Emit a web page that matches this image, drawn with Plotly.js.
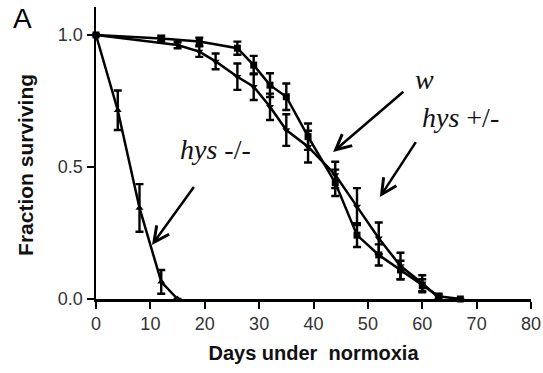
<!DOCTYPE html>
<html>
<head>
<meta charset="utf-8">
<script src="https://cdn.plot.ly/plotly-3.0.1.min.js"></script>
<style>html,body{margin:0;padding:0;background:#fff;}#chart{width:543px;height:373px;}</style>
</head>
<body>
<div id="chart"></div>
<script>
// hys -/- (triangles up)
const hysNullDays = [0, 4, 8, 12, 15];
const hysNullFrac = [1.0, 0.715, 0.345, 0.065, 0.0];
const hysNullErr  = [0, 0.075, 0.09, 0.045, 0];

// w (squares)
const wDays = [0, 12, 19, 26, 29, 32, 35, 39, 44, 48, 52, 56, 60, 63, 67];
const wFrac = [1.0, 0.987, 0.975, 0.95, 0.886, 0.81, 0.766, 0.615, 0.44, 0.242, 0.167, 0.11, 0.05, 0.01, 0.0];
const wErr  = [0, 0.01, 0.015, 0.025, 0.035, 0.045, 0.05, 0.05, 0.05, 0.045, 0.04, 0.035, 0.025, 0.01, 0];

// hys +/- (triangles down)
const hysHetDays = [0, 15, 19, 22, 26, 29, 32, 35, 39, 44, 48, 52, 56, 60, 63];
const hysHetFrac = [1.0, 0.962, 0.937, 0.9, 0.842, 0.804, 0.728, 0.64, 0.577, 0.47, 0.35, 0.23, 0.125, 0.06, 0.005];
const hysHetErr  = [0, 0.012, 0.02, 0.03, 0.05, 0.05, 0.05, 0.06, 0.06, 0.05, 0.07, 0.06, 0.05, 0.03, 0.01];

const xTicks = [0, 10, 20, 30, 40, 50, 60, 70, 80];
const yTicks = [0, 0.5, 1.0];
const yTickLabels = ['0.0', '0.5', '1.0'];

function series(x, y, e, sym) {
  return {
    x: x, y: y, type: 'scatter', mode: 'lines+markers', cliponaxis: false,
    line: {color: '#000', width: 2.5},
    marker: {symbol: sym, size: 7, color: '#000'},
    error_y: {type: 'data', array: e, visible: true, color: '#000', thickness: 2.4, width: 4}
  };
}

const data = [
  series(hysNullDays, hysNullFrac, hysNullErr, 'triangle-up'),
  series(wDays, wFrac, wErr, 'square'),
  series(hysHetDays, hysHetFrac, hysHetErr, 'triangle-down')
];

const serif = 'Liberation Serif, Times New Roman, serif';
const arrowCommon = {showarrow: true, arrowhead: 5, arrowsize: 1.2, arrowwidth: 2.5, arrowcolor: '#000',
  axref: 'x', ayref: 'y', xref: 'x', yref: 'y', text: ''};

const layout = {
  width: 543, height: 373,
  margin: {l: 96, r: 12, t: 7, b: 74},
  paper_bgcolor: '#fff', plot_bgcolor: '#fff',
  showlegend: false,
  font: {family: 'Liberation Sans, Arial, sans-serif', color: '#000'},
  xaxis: {
    range: [0, 80], tickvals: xTicks, ticks: 'outside', ticklen: 7, tickwidth: 2, tickcolor: '#000',
    showline: true, linecolor: '#000', linewidth: 2.5, showgrid: false, zeroline: false,
    tickfont: {size: 18, color: '#333'},
    title: {text: '<b>Days under  normoxia</b>', font: {size: 20, color: '#111'}, standoff: 13}
  },
  yaxis: {
    range: [0, 1.106], tickvals: yTicks, ticktext: yTickLabels, ticks: 'outside', ticklen: 7, tickwidth: 2, tickcolor: '#000',
    showline: true, linecolor: '#000', linewidth: 2.5, showgrid: false, zeroline: false,
    tickfont: {size: 18, color: '#333'}
  },
  annotations: [
    {xref: 'paper', yref: 'paper', x: -0.195, y: 1.02, xanchor: 'left', yanchor: 'top', showarrow: false,
     text: 'A', font: {size: 28, color: '#000', family: 'Liberation Sans, Arial, sans-serif'}},
    {xref: 'paper', yref: 'paper', x: -0.161, y: 0.459, xanchor: 'center', yanchor: 'middle', showarrow: false,
     textangle: -90, text: '<b>Fraction surviving</b>', font: {size: 21, color: '#111', family: 'Liberation Sans, Arial, sans-serif'}},
    {x: 60.5, y: 0.83, text: '<i>w</i>', showarrow: false, font: {size: 28, family: serif, color: '#111'}},
    {x: 67.0, y: 0.686, text: '<i>hys</i> +/-', showarrow: false, font: {size: 28, family: serif, color: '#111'}},
    {x: 22.0, y: 0.565, text: '<i>hys</i> -/-', showarrow: false, font: {size: 28, family: serif, color: '#111'}},
    Object.assign({x: 43.6, y: 0.557, ax: 56.8, ay: 0.79}, arrowCommon),
    Object.assign({x: 52.2, y: 0.386, ax: 59.0, ay: 0.60}, arrowCommon),
    Object.assign({x: 10.3, y: 0.205, ax: 18.2, ay: 0.43}, arrowCommon)
  ]
};

Plotly.newPlot('chart', data, layout, {staticPlot: true, displayModeBar: false});
</script>
</body>
</html>
